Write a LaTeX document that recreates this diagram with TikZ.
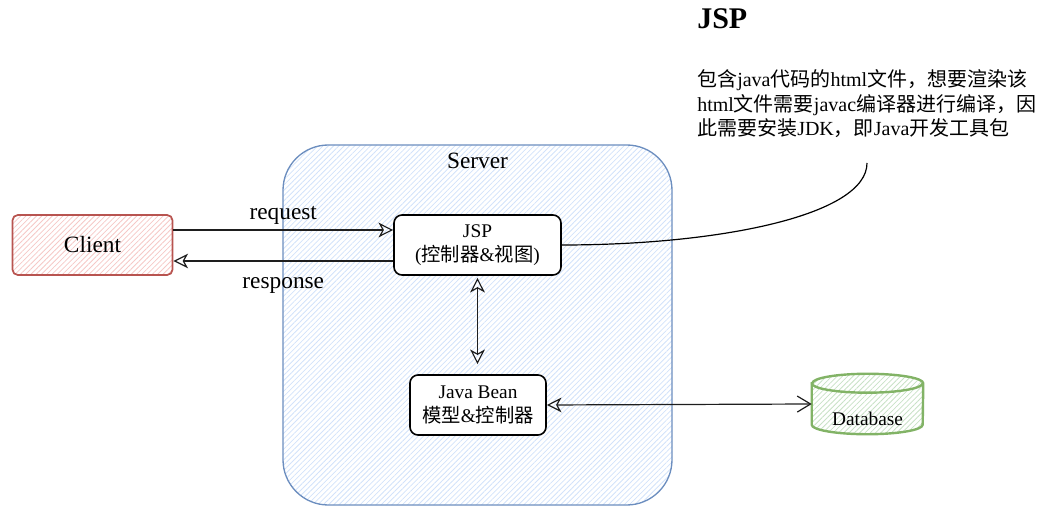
\documentclass[tikz,border=0pt]{standalone}
\usepackage{fontspec}
\setmainfont{Liberation Serif}
\newfontfamily\zh{Noto Sans CJK SC}
\usepackage{tikz}
\usetikzlibrary{positioning,arrows.meta,calc,patterns.meta}
\usepackage{xcolor}
\definecolor{clientred}{RGB}{184,84,80}
\definecolor{clientpink}{RGB}{245,200,198}
\definecolor{serverblue}{RGB}{108,142,191}
\definecolor{serverlight}{RGB}{210,226,250}
\definecolor{dbgreen}{RGB}{130,179,102}
\definecolor{dblight}{RGB}{200,225,198}
\definecolor{linegray}{RGB}{30,30,30}

\begin{document}
\begin{tikzpicture}[
  x=0.75pt,y=-0.75pt,
  >={Stealth[open,length=11pt,width=11pt,inset=3pt]},
  hatch/.style={pattern={Lines[angle=45,distance=2.8pt,line width=0.6pt]},pattern color=#1},
  srvbox/.style={draw=serverblue,line width=1pt,rounded corners=34pt,hatch=serverlight,
                 minimum width=291.75pt,minimum height=270pt},
  clientbox/.style={draw=clientred,line width=1.3pt,rounded corners=4pt,hatch=clientpink,
                    minimum width=120pt,minimum height=45pt,font=\fontsize{17.5}{21}\selectfont},
  compbox/.style={draw=black,fill=white,line width=1.2pt,rounded corners=6pt,minimum height=45pt,
                  align=center,inner sep=0pt,font=\fontsize{14.5}{18}\selectfont},
  dbbox/.style={minimum width=83.25pt,minimum height=45pt,inner sep=0pt},
  dbline/.style={draw=dbgreen,line width=1.8pt},
  lab/.style={font=\fontsize{17.5}{21}\selectfont,inner sep=1pt},
  msg/.style={->,line width=0.9pt,draw=linegray}
]
\useasboundingbox (0,0) rectangle (1047,527);

% Server container
\node[srvbox] (server) at (477.5,325) {};
\node[lab] (srvlab) at (477.5,161) {Server};

% Client and the two server components
\node[clientbox] (client) at (92.5,245) {Client};
\node[compbox,minimum width=125.25pt] (jsp) at (477.5,245) {JSP\\({\zh 控制器}\&{\zh 视图})};
\node[compbox,minimum width=102pt] (bean) at (478,405) {Java Bean\\{\zh 模型}\&{\zh 控制器}};

% Database cylinder
\node[dbbox] (db) at (867.5,404) {};
\path[dbline,hatch=dblight] ($(db.north west)+(0,9.5)$) -- ($(db.south west)+(0,-9.5)$)
  arc[start angle=180,end angle=360,x radius=41.6pt,y radius=7.1pt]
  -- ($(db.north east)+(0,9.5)$)
  arc[start angle=0,end angle=180,x radius=41.6pt,y radius=7.1pt] -- cycle;
\draw[dbline] ($(db.north west)+(0,9.5)$) arc[start angle=180,end angle=360,x radius=41.6pt,y radius=7.1pt];
\node[font=\fontsize{14.5}{18}\selectfont,inner sep=0pt] (dblab) at (867.5,419) {Database};

% Messages
\draw[msg] ([yshift=11.25pt]client.east) -- ([yshift=11.25pt]jsp.west)
  node[lab,midway,above=3pt] {request};
\draw[msg] ([yshift=-12pt]jsp.west) -- ([yshift=-12pt]client.east)
  node[lab,midway,below=11pt] {response};
\draw[msg,<->,shorten <=1.5pt,shorten >=7.5pt] (jsp.south) -- (jsp.south |- bean.north);
\draw[line width=0.9pt,draw=linegray,<-{Straight Barb[length=10pt,width=12pt]}] (bean.east) -- (db.west);

% Note on JSP
\node[font=\fontsize{22.5}{27}\selectfont\bfseries,anchor=west,inner sep=0pt] (title) at (697,19) {JSP};
\node[font=\fontsize{15}{18.4}\selectfont,anchor=west,align=left,inner sep=0pt] (note) at (697,104)
  {{\zh 包含}java{\zh 代码的}html{\zh 文件，想要渲染该}\\
   html{\zh 文件需要}javac{\zh 编译器进行编译，因}\\
   {\zh 此需要安装}JDK{\zh ，即}Java{\zh 开发工具包}};
\coordinate (noteend) at (867,163);
\draw[line width=0.9pt] (jsp.east) .. controls +(159,0) and +(0,52) .. (noteend);

\end{tikzpicture}
\end{document}
